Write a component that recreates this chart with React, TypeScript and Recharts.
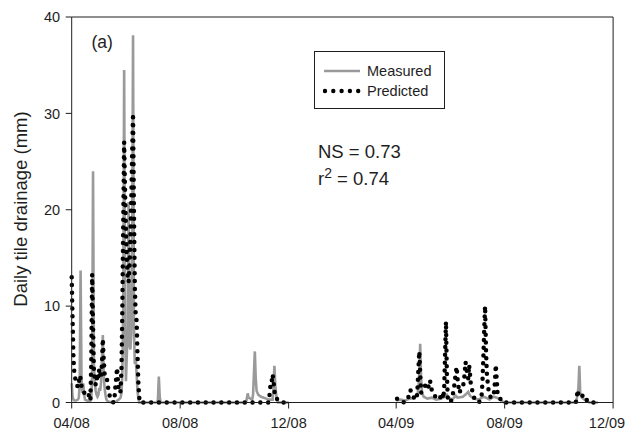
import React from "react";
import {
  LineChart,
  Line,
  XAxis,
  YAxis,
  Legend,
  ReferenceLine,
} from "recharts";

// day 0 = 1 Apr 2008, values in mm/day
const monthTicks = [0, 122, 244, 365, 487, 609];
const monthLabels = ["04/08", "08/08", "12/08", "04/09", "08/09", "12/09"];
const yTicks = [0, 10, 20, 30, 40];

const measured08: [number, number][] = [
  [0, 2.0], [1, 0.6], [2, 0.3], [3, 0.2], [5, 0.2], [7, 0.3], [8, 0.5], [9, 1.8],
  [10, 13.7], [11, 2.5], [12, 1.0], [13, 2.0], [14, 0.8], [15, 0.3], [17, 0.2],
  [20, 0.1], [22, 0.3], [23, 3.0], [24, 24.0], [25, 4.0], [26, 2.0], [27, 1.2],
  [28, 0.8], [29, 0.6], [30, 0.8], [31, 1.5], [32, 1.2], [33, 2.0], [34, 4.5],
  [35, 7.0], [36, 3.0], [37, 1.5], [38, 0.8], [39, 0.3], [41, 0.1], [45, 0],
  [50, 0.1], [53, 0.3], [55, 0.5], [56, 1.0], [57, 3.0], [58, 10], [59, 34.5],
  [60, 8.0], [61, 2.2], [62, 5.0], [63, 7.0], [64, 20.8], [65, 6.0], [66, 5.5],
  [67, 7.0], [68, 15], [69, 38.1], [70, 8.0], [71, 4.0], [72, 4.5], [73, 3.0],
  [74, 1.2], [75, 0.4], [76, 0], [96, 0], [97, 0.3], [98, 2.7], [99, 0.6],
  [100, 0], [196, 0], [197, 0.4], [198, 0.95], [199, 0.5], [203, 0.3], [204, 0.8],
  [205, 3.0], [206, 5.3], [207, 2.5], [208, 1.2], [210, 0.8], [213, 0.6],
  [216, 0.5], [219, 0.4], [222, 0.3], [226, 0.3], [227, 1.5], [228, 3.8],
  [229, 1.8], [230, 0.8], [231, 0.3], [232, 0], [244, 0],
];

const measured09: [number, number][] = [
  [365, 0.2], [370, 0.3], [375, 0.2], [380, 0.4], [385, 0.5], [389, 0.8],
  [390, 1.5], [391, 3.0], [392, 6.1], [393, 2.5], [394, 1.0], [396, 0.6],
  [400, 0.4], [405, 0.5], [410, 0.3], [415, 0.4], [420, 0.6], [422, 0.8],
  [424, 0.5], [428, 0.3], [432, 0.7], [434, 0.5], [440, 0.6], [444, 0.9],
  [446, 1.1], [448, 0.7], [452, 0.4], [458, 0.3], [463, 0.6], [466, 0.5],
  [470, 0.3], [475, 0.6], [478, 0.5], [482, 0.3], [486, 0], [566, 0],
  [568, 0.3], [570, 1.5], [571, 3.8], [572, 1.0], [574, 0.5], [577, 0.3],
  [580, 0.1], [583, 0], [592, 0],
];

const predicted08: [number, number][] = [
  [0, 13.0], [1, 8.5], [2, 4.5], [3, 3.0], [4, 2.5], [5, 2.3], [6, 1.8], [7, 1.6],
  [8, 2.0], [9, 2.8], [10, 2.5], [11, 1.7], [12, 1.4], [13, 1.2], [14, 1.0],
  [15, 1.1], [16, 1.0], [17, 0.9], [18, 1.0], [19, 0.8], [20, 0.5], [21, 0.2],
  [22, 4.0], [23, 13.3], [24, 8.0], [25, 3.2], [26, 2.4], [27, 1.8], [28, 2.2],
  [29, 3.0], [30, 2.6], [31, 3.5], [32, 3.0], [33, 2.5], [34, 4.0], [35, 6.6],
  [36, 4.5], [37, 3.0], [38, 3.0], [39, 2.8], [40, 2.2], [41, 1.5], [42, 1.0],
  [43, 0.6], [44, 0.4], [45, 0.3], [46, 0.1], [47, 0], [48, 0.3], [49, 1.5],
  [50, 2.5], [51, 3.6], [52, 2.2], [53, 1.2], [54, 1.0], [55, 1.2], [56, 3.5],
  [57, 10], [58, 19], [59, 27], [60, 22], [61, 18], [62, 15], [63, 13],
  [64, 12.5], [65, 14], [66, 17], [67, 21], [68, 26], [69, 30], [70, 20],
  [71, 12], [72, 9], [73, 8.5], [74, 5], [75, 2], [76, 0.5], [77, 0], [221, 0],
  [222, 0.3], [223, 1.2], [224, 2.2], [225, 2.2], [226, 2.9], [227, 2.2],
  [228, 1.2], [229, 0.6], [230, 0.4], [232, 0.3], [234, 0.2], [236, 0], [244, 0],
];

const predicted09: [number, number][] = [
  [366, 0.4], [368, 0.2], [370, 0.1], [374, 0], [378, 0.3], [380, 1.0],
  [381, 1.3], [383, 0.8], [385, 0.5], [388, 0.3], [389, 1.5], [390, 3.5],
  [391, 5.3], [392, 3.0], [393, 1.0], [394, 1.2], [396, 1.5], [398, 1.8],
  [400, 1.4], [402, 1.8], [403, 2.3], [405, 1.3], [407, 1.0], [409, 0.6],
  [411, 0.4], [413, 0.3], [415, 0.6], [417, 1.0], [418, 0.4], [419, 1.5],
  [420, 5.0], [421, 8.4], [422, 3.0], [423, 0.5], [425, 0], [427, 0.2],
  [428, 0.5], [430, 1.5], [432, 3.0], [433, 3.7], [434, 2.5], [436, 1.0],
  [437, 1.2], [439, 1.5], [441, 2.0], [442, 3.0], [443, 4.2], [444, 3.5],
  [445, 3.0], [446, 2.5], [447, 3.9], [448, 3.0], [449, 1.8], [450, 1.5],
  [452, 0.6], [454, 0.3], [456, 0.1], [458, 0], [460, 0.3], [461, 0.6],
  [462, 2.0], [463, 4.5], [464, 7.5], [465, 10.0], [466, 5.5], [467, 3.0],
  [468, 2.0], [469, 1.2], [470, 1.0], [471, 0.6], [472, 0.5], [474, 0.6],
  [475, 1.0], [476, 2.0], [477, 3.9], [478, 2.5], [479, 1.0], [480, 0.6],
  [481, 0.5], [483, 0.3], [485, 0], [567, 0], [568, 0.3], [569, 1.3],
  [570, 0.8], [572, 0.5], [574, 0.6], [575, 0.8], [577, 0.4], [579, 0.3],
  [582, 0], [592, 0],
];

// two seasons, broken over winter
const toRows = (a: [number, number][], b: [number, number][]) => [
  ...a.map(([day, mm]) => ({ day, mm })),
  { day: 300, mm: null },
  ...b.map(([day, mm]) => ({ day, mm })),
];

const measuredData = toRows(measured08, measured09);
const predictedData = toRows(predicted08, predicted09);

const FONT = "'Liberation Sans', Arial, sans-serif";
const INK = "#1e1e1e";
const GREY = "#9a9a9a";
const W = 627;

const LegendBox = (props: any) => {
  const items = props.payload || [];
  return (
    <div
      style={{
        border: `1px solid ${INK}`,
        width: 129,
        height: 56,
        boxSizing: "content-box",
        fontFamily: FONT,
        fontSize: 14.5,
        color: INK,
        background: "#fff",
      }}
    >
      {items.map((it: any, i: number) => (
        <div
          key={it.value}
          style={{
            position: "absolute",
            left: 9,
            top: i === 0 ? 11 : 31,
            height: 18,
            display: "flex",
            alignItems: "center",
          }}
        >
          <svg width={40} height={10} style={{ display: "block" }}>
            {it.value === "Predicted" ? (
              <line
                x1={2}
                x2={36}
                y1={5}
                y2={5}
                stroke="#000"
                strokeWidth={4.4}
                strokeLinecap="round"
                strokeDasharray="0 8.3"
              />
            ) : (
              <line x1={1} x2={37} y1={5} y2={5} stroke={GREY} strokeWidth={2.5} />
            )}
          </svg>
          <span style={{ marginLeft: 4 }}>{it.value}</span>
        </div>
      ))}
    </div>
  );
};

const YTitle = () => (
  <text
    x={20.8}
    y={209}
    transform="rotate(-90, 20.8, 209)"
    textAnchor="middle"
    dominantBaseline="central"
    fill={INK}
    fontSize={18.5}
    fontFamily={FONT}
  >
    Daily tile drainage (mm)
  </text>
);

// month label under each tick; keep the last one inside the frame
const MonthTick = ({ x, y, payload }: any) => {
  const label = monthLabels[monthTicks.indexOf(payload.value)];
  const half = 19;
  const cx = Math.min(x, W - half - 1);
  return (
    <text
      x={cx}
      y={y}
      dy="0.71em"
      textAnchor="middle"
      fill={INK}
      fontSize={14.5}
      fontFamily={FONT}
    >
      {label}
    </text>
  );
};

export default function App() {
  return (
    <div
      style={{
        position: "absolute",
        left: 0,
        top: 0,
        width: W,
        height: 431,
        background: "#fff",
        fontFamily: FONT,
      }}
    >
      <LineChart
        width={W}
        height={431}
        margin={{ top: 17, right: 13.9, bottom: 0.5, left: 0 }}
      >
        <XAxis
          dataKey="day"
          type="number"
          domain={[0, 609]}
          ticks={monthTicks}
          allowDuplicatedCategory={false}
          height={28}
          tickSize={6}
          tickMargin={9}
          axisLine={{ stroke: INK }}
          tickLine={{ stroke: INK }}
          tick={<MonthTick />}
        />
        <YAxis
          domain={[0, 40]}
          ticks={yTicks}
          width={71.7}
          tickSize={6}
          tickMargin={5.5}
          axisLine={{ stroke: INK }}
          tickLine={{ stroke: INK }}
          tick={{ fill: INK, fontSize: 14.5, fontFamily: FONT }}
          label={<YTitle />}
        />
        <ReferenceLine y={40} stroke={INK} />
        <ReferenceLine x={609} stroke={INK} />
        <Legend
          layout="vertical"
          align="center"
          verticalAlign="middle"
          content={<LegendBox />}
          wrapperStyle={{ left: 314, top: 51, width: 131, height: 58 }}
        />
        <Line
          data={measuredData}
          dataKey="mm"
          name="Measured"
          type="linear"
          stroke={GREY}
          strokeWidth={2.6}
          dot={false}
          activeDot={false}
          connectNulls={false}
          isAnimationActive={false}
        />
        <Line
          data={predictedData}
          dataKey="mm"
          name="Predicted"
          type="linear"
          stroke="#000"
          strokeWidth={4.5}
          strokeLinecap="round"
          strokeDasharray="0 7.8"
          dot={false}
          activeDot={false}
          connectNulls={false}
          isAnimationActive={false}
        />
      </LineChart>
      <div
        style={{
          position: "absolute",
          left: 91.5,
          top: 34,
          fontSize: 17.5,
          lineHeight: "17px",
          color: INK,
        }}
      >
        (a)
      </div>
      <div
        style={{
          position: "absolute",
          left: 318,
          top: 143,
          fontSize: 18.5,
          color: INK,
          whiteSpace: "nowrap",
        }}
      >
        <div style={{ height: 27, lineHeight: "18px" }}>NS = 0.73</div>
        <div style={{ lineHeight: "18px" }}>
          r<sup style={{ fontSize: 14, verticalAlign: "7px", lineHeight: 0 }}>2</sup> = 0.74
        </div>
      </div>
    </div>
  );
}
